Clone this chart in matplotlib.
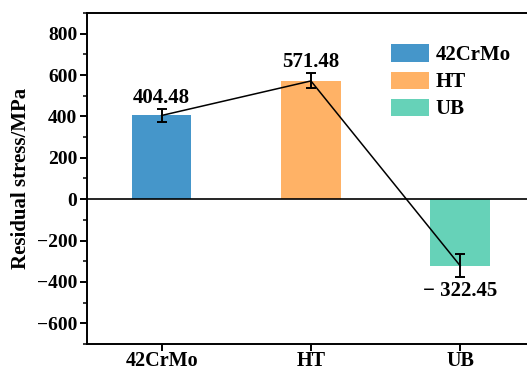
import matplotlib
matplotlib.use('Agg')
import matplotlib.pyplot as plt
from matplotlib.ticker import MultipleLocator

plt.rcParams['font.family'] = ['Liberation Serif', 'DejaVu Serif']
plt.rcParams['font.weight'] = 'bold'

# data
groups = ['42CrMo', 'HT', 'UB']
stress = [404.48, 571.48, -322.45]
err = [31, 36, 55]
labels = ['404.48', '571.48', '\u2212 322.45']
yticks = [-600, -400, -200, 0, 200, 400, 600, 800]
ytick_labels = ['\u2212600', '\u2212400', '\u2212200', '0', '200', '400', '600', '800']
colors = ['#4596CA', '#FFB266', '#66D2B8']

fig = plt.figure(figsize=(5.27, 3.71), dpi=100)
ax = fig.add_axes([0.165, 0.073, 0.85, 0.892])

x = list(range(len(groups)))
ax.bar(x, stress, width=0.4, color=colors, label=groups, zorder=2)
ax.plot(x, stress, color='black', lw=1.1, zorder=3)
ax.errorbar(x, stress, yerr=err, fmt='none', ecolor='black', elinewidth=1.4,
            capsize=3.5, capthick=1.4, zorder=4)
ax.axhline(0, color='black', lw=1.2, zorder=3)

for xi, v, e, t in zip(x, stress, err, labels):
    if v > 0:
        ax.annotate(t, (xi, v + e), xytext=(0, 1), textcoords='offset points',
                    ha='center', va='bottom', fontsize=15, fontweight='bold')
    else:
        ax.annotate(t, (xi, v - e), xytext=(0, -3), textcoords='offset points',
                    ha='center', va='top', fontsize=15, fontweight='bold')

ax.set_xlim(-0.5, 2.5)
ax.set_ylim(-700, 900)
ax.set_xticks(x)
ax.set_xticklabels(groups, fontsize=14.5, fontweight='bold')
ax.yaxis.set_minor_locator(MultipleLocator(100))
ax.set_yticks(yticks)
ax.set_yticklabels(ytick_labels, fontsize=14, fontweight='bold')
ax.tick_params(axis='both', direction='out', width=1.4, length=5, pad=2)
ax.tick_params(axis='x', pad=0)
ax.tick_params(axis='y', which='minor', direction='out', width=1.1, length=3)
ax.tick_params(axis='x', which='minor', bottom=False)
ax.set_ylabel('Residual stress/MPa', fontsize=15, fontweight='bold', labelpad=4)

for s in ax.spines.values():
    s.set_linewidth(1.4)

ax.legend(loc='upper left', bbox_to_anchor=(0.66, 0.93), frameon=False,
          borderaxespad=0, prop={'size': 15, 'weight': 'bold'}, handlelength=1.85,
          handleheight=0.9, handletextpad=0.3, labelspacing=0.3)

fig.savefig('out.png', dpi=100)
